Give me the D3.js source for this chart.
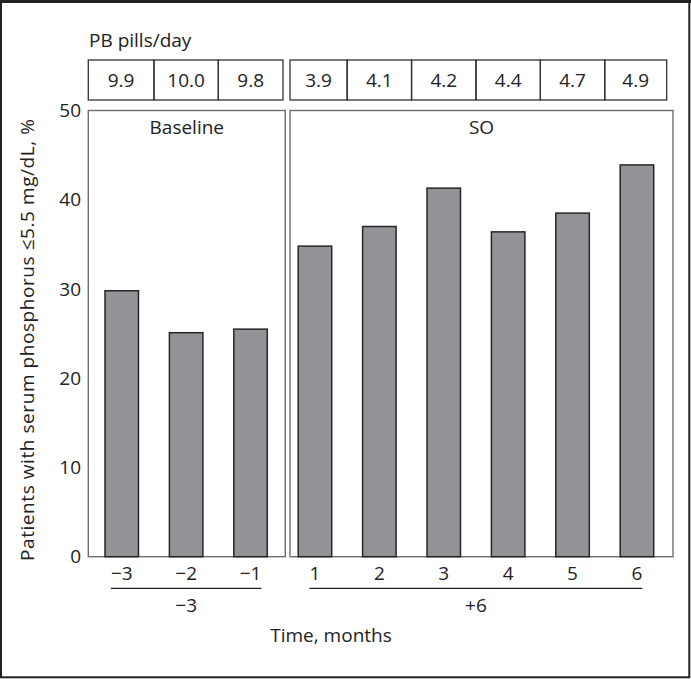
<!DOCTYPE html>
<html>
<head>
<meta charset="utf-8">
<script src="https://cdn.jsdelivr.net/npm/d3@7"></script>
<style>
  html, body { margin: 0; padding: 0; background: #fff; }
  svg text { font-family: "Open Sans", "Noto Sans", sans-serif; fill: #222; }
</style>
</head>
<body>
<svg id="chart" width="691" height="679"></svg>
<script>
// ---- data ----
const categories = ["−3", "−2", "−1", "1", "2", "3", "4", "5", "6"];
const values = [29.8, 25.1, 25.5, 34.8, 37.0, 41.3, 36.4, 38.5, 43.9];
const pills = ["9.9", "10.0", "9.8", "3.9", "4.1", "4.2", "4.4", "4.7", "4.9"];
const groupNames = ["Baseline", "SO"];
const groupLabels = ["−3", "+6"];
const groupOf = [0, 0, 0, 1, 1, 1, 1, 1, 1];
const yTicks = [0, 10, 20, 30, 40, 50];

// ---- layout ----
const W = 691, H = 679;
const plotTop = 110.5, plotBottom = 556.7;
const panels = [{x0: 88.3, x1: 285.3}, {x0: 290, x1: 673}];
const tableGroups = [{x0: 88.3, x1: 283}, {x0: 290, x1: 666.7}];
const tableTop = 60, tableBottom = 100;
const fs = 19;

const svg = d3.select("#chart");

// outer frame
svg.append("rect").attr("x", 1).attr("y", 1.5).attr("width", 688.3).attr("height", 675.8)
  .attr("fill", "none").attr("stroke", "#222").attr("stroke-width", 2);
svg.append("line").attr("x1", 0).attr("x2", W).attr("y1", 1.5).attr("y2", 1.5)
  .attr("stroke", "#222").attr("stroke-width", 3);

const x = d3.scaleBand().domain(d3.range(categories.length))
  .range([105, 653.7]).paddingInner(0.48).paddingOuter(0);
const y = d3.scaleLinear().domain([0, 50]).range([plotBottom, plotTop]);
const cx = i => x(i) + x.bandwidth() / 2;

// panels
panels.forEach((p, g) => {
  svg.append("rect").attr("x", p.x0).attr("y", y(50)).attr("width", p.x1 - p.x0)
    .attr("height", y(0) - y(50)).attr("fill", "none").attr("stroke", "#6e6e6e").attr("stroke-width", 1.4);
  svg.append("text").attr("x", (p.x0 + p.x1) / 2).attr("y", 134).attr("text-anchor", "middle")
    .attr("font-size", fs).text(groupNames[g]);
});

// bars
svg.append("g").selectAll("rect").data(values).join("rect")
  .attr("x", (d, i) => x(i)).attr("width", x.bandwidth())
  .attr("y", d => y(d)).attr("height", d => y(0) - y(d))
  .attr("fill", "#939397").attr("stroke", "#262626").attr("stroke-width", 1.5);

// y axis (labels only)
const yAxis = svg.append("g").attr("transform", `translate(81,0)`)
  .call(d3.axisLeft(y).tickValues(yTicks).tickSize(0).tickPadding(0));
yAxis.select(".domain").remove();
yAxis.selectAll("text").attr("font-size", fs).attr("font-family", null).attr("fill", "#222");

svg.append("text").attr("transform", `translate(34,340) rotate(-90)`).attr("text-anchor", "middle")
  .attr("font-size", fs).attr("textLength", 442).attr("lengthAdjust", "spacing")
  .text("Patients with serum phosphorus ≤5.5 mg/dL, %");

// x tick labels
const xt = svg.append("g").selectAll("text").data(categories).join("text")
  .attr("x", (d, i) => cx(i)).attr("y", 579.5).attr("text-anchor", "middle")
  .attr("font-size", fs).text(d => d);

// group underlines and labels
groupLabels.forEach((lab, g) => {
  const idx = d3.range(categories.length).filter(i => groupOf[i] === g);
  const nodes = xt.filter((d, i) => groupOf[i] === g).nodes();
  const b0 = nodes[0].getBBox(), b1 = nodes[nodes.length - 1].getBBox();
  const l = b0.x, r = b1.x + b1.width;
  svg.append("line").attr("x1", l).attr("x2", r).attr("y1", 588.3).attr("y2", 588.3)
    .attr("stroke", "#222").attr("stroke-width", 1.3);
  svg.append("text").attr("x", (cx(idx[0]) + cx(idx[idx.length - 1])) / 2).attr("y", 612)
    .attr("text-anchor", "middle").attr("font-size", fs).text(lab);
});

svg.append("text").attr("x", 331).attr("y", 641.7).attr("text-anchor", "middle")
  .attr("font-size", fs).text("Time, months");

// pills table
svg.append("text").attr("x", 89).attr("y", 46.5).attr("font-size", fs).text("PB pills/day");
tableGroups.forEach((tg, g) => {
  const idx = d3.range(categories.length).filter(i => groupOf[i] === g);
  idx.forEach((i, k) => {
    const left = k === 0 ? tg.x0 : (cx(i - 1) + cx(i)) / 2;
    const right = k === idx.length - 1 ? tg.x1 : (cx(i) + cx(i + 1)) / 2;
    svg.append("rect").attr("x", left).attr("y", tableTop).attr("width", right - left)
      .attr("height", tableBottom - tableTop).attr("fill", "none").attr("stroke", "#333").attr("stroke-width", 1.3);
    svg.append("text").attr("x", (left + right) / 2).attr("y", 87).attr("text-anchor", "middle")
      .attr("font-size", fs).text(pills[i]);
  });
});
</script>
</body>
</html>
